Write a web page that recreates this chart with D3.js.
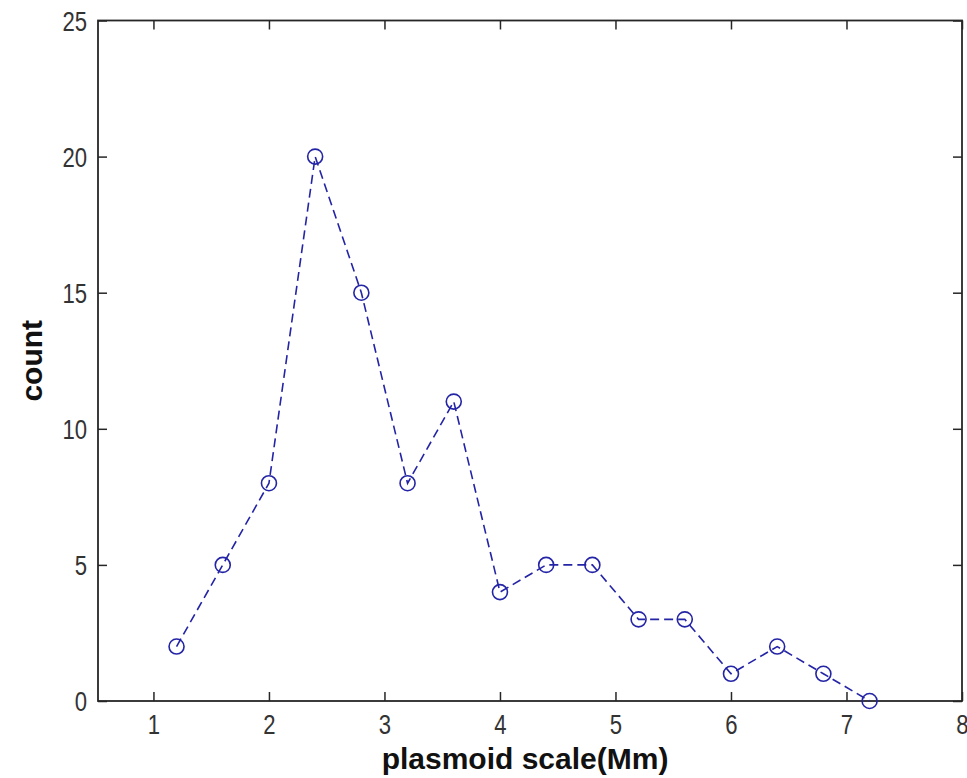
<!DOCTYPE html>
<html>
<head>
<meta charset="utf-8">
<script src="https://cdn.jsdelivr.net/npm/d3@7/dist/d3.min.js"></script>
<style>
  body { margin: 0; background: #fff; }
  svg { display: block; }
</style>
</head>
<body>
<div id="chart"></div>
<script>
var width = 967, height = 778;
var margin = {top: 20.5, right: 5, bottom: 77, left: 98};

// plasmoid scale (Mm) and counts
var scales = [1.2, 1.6, 2.0, 2.4, 2.8, 3.2, 3.6, 4.0, 4.4, 4.8, 5.2, 5.6, 6.0, 6.4, 6.8, 7.2];
var counts = [2, 5, 8, 20, 15, 8, 11, 4, 5, 5, 3, 3, 1, 2, 1, 0];
var xTicks = [1, 2, 3, 4, 5, 6, 7, 8];
var yTicks = [0, 5, 10, 15, 20, 25];

var data = scales.map(function(s, i) { return {x: s, y: counts[i]}; });

var x0 = margin.left, x1 = width - margin.right;
var y0 = height - margin.bottom, y1 = margin.top;

var xScale = d3.scaleLinear().domain([0.52, 8]).range([x0, x1]);
var yScale = d3.scaleLinear().domain([0, 25]).range([y0, y1]);

var svg = d3.select("#chart").append("svg")
    .attr("width", width)
    .attr("height", height);

svg.append("rect").attr("width", width).attr("height", height).attr("fill", "#fff");

var lineColor = "#2424a6";
var axisColor = "#262626";
var tickFont = "'Liberation Sans', Arial, sans-serif";

// bottom axis
var gx = svg.append("g")
    .attr("transform", "translate(0," + y0 + ")")
    .call(d3.axisBottom(xScale).tickValues(xTicks).tickSize(-9).tickFormat(d3.format("d")));
// top axis (ticks only)
var gxTop = svg.append("g")
    .attr("transform", "translate(0," + y1 + ")")
    .call(d3.axisTop(xScale).tickValues(xTicks).tickSize(-9).tickFormat(""));
// left axis
var gy = svg.append("g")
    .attr("transform", "translate(" + x0 + ",0)")
    .call(d3.axisLeft(yScale).tickValues(yTicks).tickSize(-9).tickFormat(d3.format("d")));
// right axis (ticks only)
var gyRight = svg.append("g")
    .attr("transform", "translate(" + x1 + ",0)")
    .call(d3.axisRight(yScale).tickValues(yTicks).tickSize(-9).tickFormat(""));

[gx, gxTop, gy, gyRight].forEach(function(g) {
    g.select(".domain").remove();
    g.selectAll(".tick line").attr("stroke", axisColor).attr("stroke-width", 1.5);
});

gx.selectAll(".tick text")
    .attr("y", 33).attr("dy", 0)
    .attr("transform", "scale(0.82,1)")
    .style("font-family", tickFont)
    .style("font-size", "27px")
    .attr("fill", "#333");

gy.selectAll(".tick text")
    .attr("x", -13.4).attr("dy", "0.36em")
    .attr("transform", "scale(0.82,1)")
    .style("font-family", tickFont)
    .style("font-size", "27px")
    .attr("fill", "#333");

// box
svg.append("rect")
    .attr("x", x0).attr("y", y1)
    .attr("width", x1 - x0).attr("height", y0 - y1)
    .attr("fill", "none")
    .attr("stroke", axisColor)
    .attr("stroke-width", 1.8);

// dashed line
var line = d3.line()
    .x(function(d) { return xScale(d.x); })
    .y(function(d) { return yScale(d.y); });

svg.append("path")
    .datum(data)
    .attr("d", line)
    .attr("fill", "none")
    .attr("stroke", lineColor)
    .attr("stroke-width", 1.6)
    .attr("stroke-dasharray", "9,5");

// circle markers
svg.selectAll(".dot")
    .data(data)
    .enter().append("circle")
    .attr("class", "dot")
    .attr("cx", function(d) { return xScale(d.x); })
    .attr("cy", function(d) { return yScale(d.y); })
    .attr("r", 7.5)
    .attr("fill", "none")
    .attr("stroke", lineColor)
    .attr("stroke-width", 1.6);

// axis labels
svg.append("text")
    .attr("x", 525)
    .attr("y", 769)
    .attr("text-anchor", "middle")
    .style("font-family", "'Liberation Sans', Arial, sans-serif")
    .style("font-weight", "bold")
    .style("font-size", "30px")
    .attr("fill", "#111")
    .text("plasmoid scale(Mm)");

svg.append("text")
    .attr("transform", "translate(42," + ((y0 + y1) / 2) + ") rotate(-90)")
    .attr("text-anchor", "middle")
    .style("font-family", "'Liberation Sans', Arial, sans-serif")
    .style("font-weight", "bold")
    .style("font-size", "30px")
    .attr("fill", "#111")
    .text("count");
</script>
</body>
</html>
